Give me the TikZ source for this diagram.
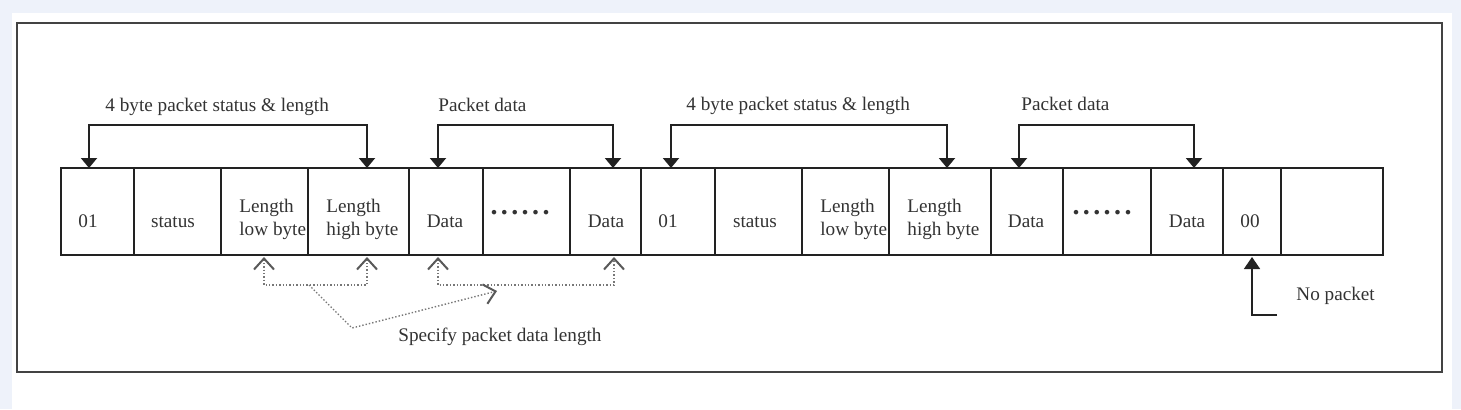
\documentclass[tikz,border=0pt]{standalone}
\usepackage{fontspec}
\setmainfont{Liberation Serif}
\usetikzlibrary{arrows.meta}

\definecolor{pagebg}{HTML}{EEF2FA}
\definecolor{ink}{HTML}{222222}
\definecolor{txt}{HTML}{333333}
\definecolor{hintc}{HTML}{777777}

\tikzset{
  lbl/.style={font=\fontsize{9.6}{11.5}\selectfont, text=txt, inner sep=0pt},
  span/.style={ink, line width=1pt, {Triangle[width=8pt,length=5pt]}-{Triangle[width=8pt,length=5pt]}},
  hint/.style={hintc, densely dotted, line width=0.7pt},
  barb/.tip={Straight Barb[width=10pt,length=5.5pt,line width=1pt,color=ink!75]}
}

\begin{document}
\begin{tikzpicture}[x=0.5pt,y=-0.5pt]
\useasboundingbox (0,0) rectangle (1461,409);

% backdrop and frame
\fill[pagebg] (0,0) rectangle (1461,409);
\fill[white] (12,13) rectangle (1452,409);
\draw[ink!85, line width=1.2pt] (17,23) rectangle (1442,372);

% the byte strip
\draw[ink, line width=1pt] (61,168) rectangle (1383,255);
\foreach \b in {134,221,308,409,483,570,641,715,802,889,991,1063,1151,1223,1281}
  \draw[ink, line width=1pt] (\b,168) -- (\b,255);

% what each byte holds
\node[lbl, anchor=base] (sync1) at (88,227) {01};
\node[lbl, anchor=base] (stat1) at (173,227) {status};
\node[lbl, anchor=base west, align=left] (lenlo1) at (239,235) {Length\\low byte};
\node[lbl, anchor=base west, align=left] (lenhi1) at (326,235) {Length\\high byte};
\node[lbl, anchor=base] (data1) at (445,227) {Data};
\node[lbl, anchor=center, font=\fontsize{14}{14}\bfseries] (more1) at (520,213) {.\kern1.7pt.\kern1.7pt.\kern1.7pt.\kern1.7pt.\kern1.7pt.};
\node[lbl, anchor=base] (data2) at (606,227) {Data};
\node[lbl, anchor=base] (sync2) at (668,227) {01};
\node[lbl, anchor=base] (stat2) at (755,227) {status};
\node[lbl, anchor=base west, align=left] (lenlo2) at (820,235) {Length\\low byte};
\node[lbl, anchor=base west, align=left] (lenhi2) at (907,235) {Length\\high byte};
\node[lbl, anchor=base] (data3) at (1026,227) {Data};
\node[lbl, anchor=center, font=\fontsize{14}{14}\bfseries] (more2) at (1102,213) {.\kern1.7pt.\kern1.7pt.\kern1.7pt.\kern1.7pt.\kern1.7pt.};
\node[lbl, anchor=base] (data4) at (1187,227) {Data};
\node[lbl, anchor=base] (end) at (1250,227) {00};

% brackets over the strip
\foreach \l/\r/\tx/\ty/\nm/\txt in {89/367/105/111/hdr1/4 byte packet status \& length,
    438/613/438/111/pay1/Packet data,
    671/947/686/110/hdr2/4 byte packet status \& length,
    1019/1194/1021/110/pay2/Packet data}
{
  \coordinate (\nm-l) at (\l,168);
  \coordinate (\nm-r) at (\r,168);
  \coordinate (\nm-lc) at (\l,125);
  \coordinate (\nm-rc) at (\r,125);
  \draw[span] (\nm-l) -- (\nm-lc) -- (\nm-rc) -- (\nm-r);
  \node[lbl, anchor=base west] (\nm) at (\tx,\ty) {\txt};
}

% length bytes point at the data
\coordinate (u1) at (264,257);
\coordinate (u2) at (367,257);
\coordinate (u3) at (438,257);
\coordinate (u4) at (614,257);
\coordinate (h1) at (264,285);
\coordinate (h2) at (367,285);
\coordinate (h3) at (438,285);
\coordinate (h4) at (614,285);
\draw[hint, barb-barb] (u1) -- (h1) -- (h2) -- (u2);
\draw[hint, barb-barb] (u3) -- (h3) -- (h4) -- (u4);

\coordinate (fork) at (309,285);
\coordinate (elbow) at (352,328);
\coordinate (aim) at (497,291);
\draw[hint, -barb] (fork) -- (elbow) -- (aim);
\node[lbl, anchor=base west] (spec) at (398,341) {Specify packet data length};

% end marker
\coordinate (np) at (1252,257);
\coordinate (npc) at (1252,315);
\coordinate (npe) at (1277,315);
\draw[ink, line width=0.8pt, -{Triangle[width=8pt,length=6pt]}] (npe) -- (npc) -- (np);
\node[lbl, anchor=base west] (nopkt) at (1296,300) {No packet};

\end{tikzpicture}
\end{document}
